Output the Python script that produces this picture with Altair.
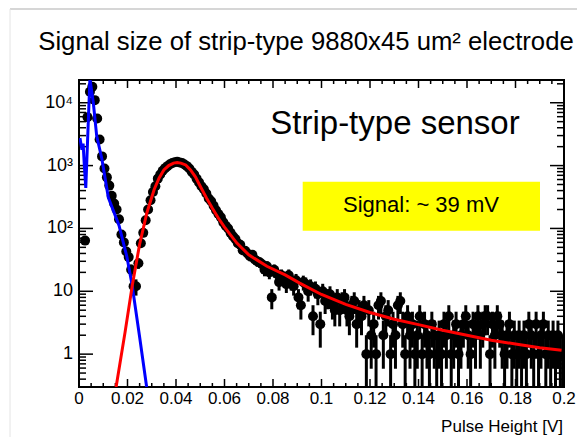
import altair as alt
import pandas as pd
import numpy as np

# ---------------- data ----------------
BIN_WIDTH = 0.001  # V
counts = [0, 0, 64, 5900, 15000, 18000, 11000, 5600, 2600, 1400,
          900, 650, 480, 330, 250, 200, 140, 80, 60, 43,
          35, 22, 12, 12, 28, 58, 85, 135, 200, 280,
          380, 470, 620, 720, 830, 910, 980, 1050, 1100, 1130,
          1150, 1120, 1100, 1040, 980, 900, 800, 720, 620, 540,
          470, 420, 360, 300, 270, 230, 195, 170, 150, 125,
          110, 100, 85, 75, 68, 58, 55, 45, 44, 40,
          36, 38, 32, 30, 29, 27, 22, 25, 20, 8,
          22, 19, 14, 18, 16, 13, 18, 14, 12, 15,
          8, 6, 14, 13, 10, 12, 4, 11, 9, 3,
          10, 7, 8, 9, 6, 5, 8, 5, 7, 8,
          5, 4, 6, 7, 3, 5, 4, 6, 1, 5,
          2, 3, 1, 6, 7, 2, 4, 5, 1, 3,
          2, 6, 7, 3, 1, 4, 2, 3, 1, 2,
          4, 1, 3, 2, 1, 3, 2, 1, 2, 1,
          3, 2, 4, 1, 2, 3, 1, 2, 3, 4,
          2, 1, 3, 2, 4, 2, 3, 4, 4, 1,
          3, 2, 4, 3, 2, 1, 2, 3, 1, 2,
          1, 2, 1, 2, 1, 3, 2, 1, 3, 1,
          2, 3, 1, 2, 1, 2, 1, 2, 1, 1]

# noise fit (blue)
blue_x = [0.0004, 0.0012, 0.0017, 0.0022, 0.0028, 0.0045, 0.0059, 0.0073,
          0.0094, 0.0121, 0.0165, 0.0197, 0.0219, 0.0249, 0.0279]
blue_y = [2750, 1780, 2240, 1000, 440, 24000, 10000, 2950,
          1300, 310, 112, 36, 12.6, 2.0, 0.30]

# signal fit (red)
red_x = [0.0153, 0.019, 0.022, 0.025, 0.028, 0.031, 0.033, 0.035, 0.037,
         0.039, 0.0405, 0.042, 0.044, 0.046, 0.048, 0.050, 0.0525, 0.055,
         0.0575, 0.060, 0.065, 0.070, 0.0775, 0.085, 0.091, 0.100, 0.110,
         0.120, 0.130, 0.140, 0.150, 0.160, 0.170, 0.180, 0.190, 0.199]
red_y = [0.30, 2.24, 12.6, 56, 178, 417, 631, 851, 1000,
         1096, 1122, 1096, 1023, 851, 661, 468, 309, 209,
         145, 105, 59, 38, 25, 18.2, 13.5, 8.9, 6.2,
         4.6, 3.6, 2.95, 2.4, 2.0, 1.66, 1.45, 1.26, 1.15]

x_major = [0, 0.02, 0.04, 0.06, 0.08, 0.1, 0.12, 0.14, 0.16, 0.18, 0.2]
x_tick_labels = ["0", "0.02", "0.04", "0.06", "0.08", "0.1", "0.12", "0.14",
                 "0.16", "0.18", "0.2"]
x_minor_step = 0.005
y_tick_values = [1, 10, 100, 1000, 10000]
y_tick_labels = ["1", "10", "10²", "10³", "10⁴"]
y_decades = [0.1, 1, 10, 100, 1000, 10000]

TITLE = "Signal size of strip-type 9880x45 um² electrode"
X_DOMAIN = [0, 0.2]
Y_DOMAIN = [0.3, 23000]
W, H = 485, 307
FONT = "Liberation Sans"

# ---------------- tables ----------------
n = np.array(counts, dtype=float)
xc = (np.arange(len(counts)) + 0.5) * BIN_WIDTH
err = np.sqrt(n)
hist = pd.DataFrame({"x": xc, "n": n,
                     "lo": np.maximum(n - err, Y_DOMAIN[0]),
                     "hi": n + err})
hist = hist[hist["n"] > 0]

blue = pd.DataFrame({"x": blue_x, "y": blue_y})
red = pd.DataFrame({"x": red_x, "y": red_y})

x_minor = [round(i * x_minor_step, 4) for i in range(int(round(0.2 / x_minor_step)) + 1)]
x_minor = [v for v in x_minor if all(abs(v - m) > 1e-9 for m in x_major)]
y_minor = [d * k for d in y_decades for k in range(2, 10)]
y_minor = [v for v in y_minor if Y_DOMAIN[0] <= v <= Y_DOMAIN[1]]
y_major = list(y_tick_values)

xscale = alt.Scale(domain=X_DOMAIN, nice=False, zero=False)
yscale = alt.Scale(type="log", domain=Y_DOMAIN, nice=False)

# ---------------- layers ----------------
bars = alt.Chart(hist).mark_rule(color="black", strokeWidth=3, clip=True).encode(
    x=alt.X("x:Q", scale=xscale, axis=None),
    y=alt.Y("lo:Q", scale=yscale, axis=None),
    y2="hi:Q",
)

points = alt.Chart(hist).mark_circle(color="black", size=100, opacity=1, clip=True).encode(
    x=alt.X("x:Q", scale=xscale, axis=None),
    y=alt.Y("n:Q", scale=yscale, axis=None),
)

blue_line = alt.Chart(blue).mark_line(color="#0000ff", strokeWidth=3, clip=True).encode(
    x=alt.X("x:Q", scale=xscale, axis=None),
    y=alt.Y("y:Q", scale=yscale, axis=None),
)
red_line = alt.Chart(red).mark_line(color="#ff0000", strokeWidth=3, clip=True).encode(
    x=alt.X("x:Q", scale=xscale, axis=None),
    y=alt.Y("y:Q", scale=yscale, axis=None),
)


def xticks(vals, length, top):
    df = pd.DataFrame({"t": vals})
    if top:
        ys = dict(y=alt.value(0), y2=alt.value(length))
    else:
        ys = dict(y=alt.value(H), y2=alt.value(H - length))
    return alt.Chart(df).mark_rule(color="black", strokeWidth=1.5).encode(
        x=alt.X("t:Q", scale=xscale, axis=None), **ys)


def yticks(vals, length, right):
    df = pd.DataFrame({"t": vals})
    if right:
        xs = dict(x=alt.value(W), x2=alt.value(W - length))
    else:
        xs = dict(x=alt.value(0), x2=alt.value(length))
    return alt.Chart(df).mark_rule(color="black", strokeWidth=1.5).encode(
        y=alt.Y("t:Q", scale=yscale, axis=None), **xs)


ticks = [xticks(x_major, 8, False), xticks(x_minor, 4, False),
         xticks(x_major, 8, True), xticks(x_minor, 4, True),
         yticks(y_major, 14, False), yticks(y_minor, 7, False),
         yticks(y_major, 14, True), yticks(y_minor, 7, True)]

one = pd.DataFrame({"a": [0]})

# tick labels drawn as text through the scales
xlab = alt.Chart(pd.DataFrame({"t": x_major, "lab": x_tick_labels})).mark_text(
    font=FONT, fontSize=17, color="black", align="center", baseline="middle"
).encode(x=alt.X("t:Q", scale=xscale, axis=None), y=alt.value(H + 12), text="lab:N")

ylab = alt.Chart(pd.DataFrame({"t": y_tick_values, "lab": y_tick_labels})).mark_text(
    font=FONT, fontSize=18, color="black", align="right", baseline="middle"
).encode(y=alt.Y("t:Q", scale=yscale, axis=None), x=alt.value(-6), text="lab:N")

xtitle = alt.Chart(one).mark_text(
    text="Pulse Height [V]", font=FONT, fontSize=17, color="black",
    align="right", baseline="alphabetic").encode(x=alt.value(W - 1), y=alt.value(352))

main_title = alt.Chart(one).mark_text(
    text=TITLE, font=FONT, fontSize=25.7, color="black",
    align="center", baseline="alphabetic").encode(x=alt.value(227), y=alt.value(-30))

box = alt.Chart(one).mark_rect(color="#ffff00").encode(
    x=alt.value(223.7), x2=alt.value(461), y=alt.value(101.7), y2=alt.value(150.7))
box_text = alt.Chart(one).mark_text(
    text="Signal: ~ 39 mV", font=FONT, fontSize=22, color="black",
    align="center", baseline="middle").encode(x=alt.value(342), y=alt.value(125))
sensor_text = alt.Chart(one).mark_text(
    text="Strip-type sensor", font=FONT, fontSize=33, color="black",
    align="center", baseline="middle").encode(x=alt.value(316), y=alt.value(44))

# faint slide-frame lines around the figure
frame_top = alt.Chart(one).mark_rule(color="#c8c8c8", strokeWidth=1.5).encode(
    x=alt.value(-69), x2=alt.value(500), y=alt.value(-71))
frame_left = alt.Chart(one).mark_rule(color="#e4e4e4", strokeWidth=1).encode(
    x=alt.value(-69), y=alt.value(-71), y2=alt.value(360))

chart = alt.layer(
    frame_top, frame_left, main_title, box, box_text, sensor_text, *ticks,
    bars, points, blue_line, red_line, xlab, ylab, xtitle
).properties(
    width=W, height=H,
    autosize=alt.AutoSizeParams(type="none"),
    padding={"left": 71, "top": 72, "right": 13, "bottom": 50},
).configure_view(stroke="black", strokeWidth=2)

chart.save("out.html", embed_options={"renderer": "svg", "actions": False})
